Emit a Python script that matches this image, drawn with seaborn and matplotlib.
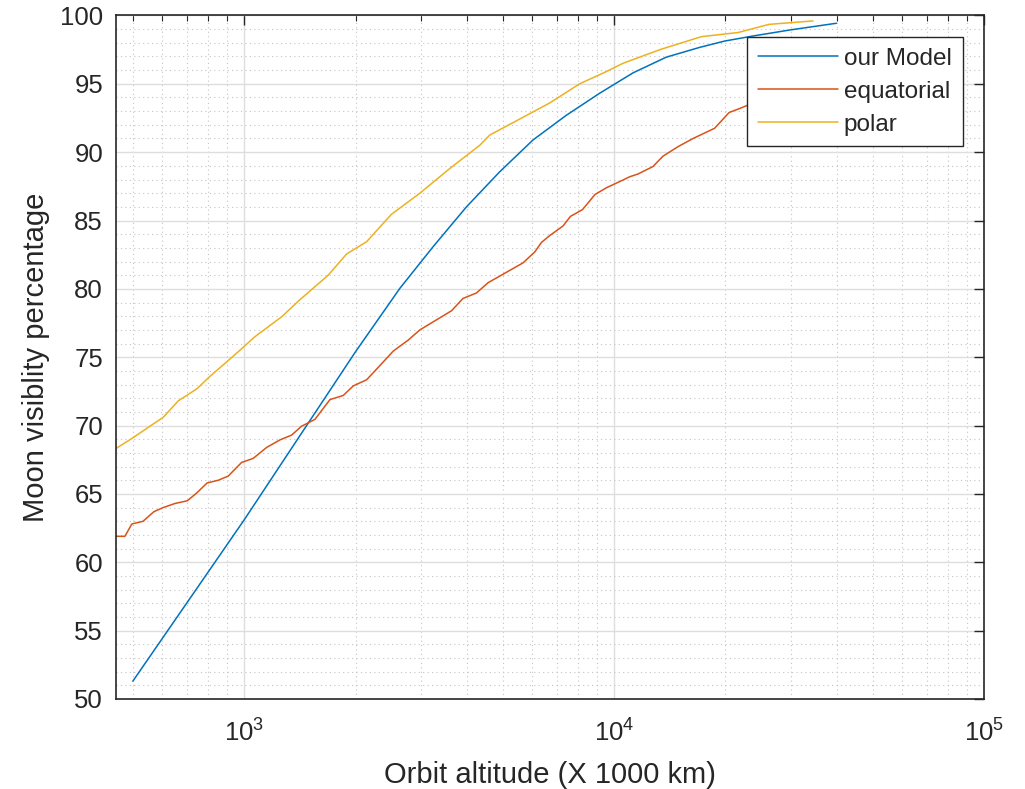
import numpy as np
import pandas as pd
import matplotlib
matplotlib.use("Agg")
import matplotlib.pyplot as plt
import seaborn as sns
from matplotlib.ticker import LogLocator, MultipleLocator, FixedLocator

# values
model_x = [500, 1000, 1475, 2000, 2636, 3243, 3990, 4909, 6036, 7430, 9140,
           11250, 13840, 17060, 19920, 23770, 29900, 39900]
model_y = [51.3, 63.1, 70.0, 75.4, 80.04, 83.09, 86.0, 88.57, 90.89, 92.7,
           94.31, 95.8, 96.95, 97.67, 98.13, 98.5, 98.94, 99.43]

equ_x = [449, 476, 497, 533, 570, 604, 650, 702, 743, 794, 851, 905, 984,
         1058, 1150, 1249, 1343, 1429, 1553, 1706, 1852, 1972, 2143, 2330,
         2530, 2776, 2986, 3636, 3905, 4246, 4564, 5672, 6103, 6364, 6700,
         7277, 7620, 8218, 8876, 9538, 10360, 11020, 11600, 12740, 13550,
         14880, 16350, 18700, 20460, 21880, 23770, 30000, 39700]
equ_y = [61.9, 61.9, 62.8, 63.0, 63.7, 64.0, 64.3, 64.5, 65.05, 65.8, 66.0,
         66.3, 67.3, 67.6, 68.4, 68.95, 69.3, 69.95, 70.45, 71.9, 72.2, 72.9,
         73.35, 74.4, 75.45, 76.25, 77.0, 78.4, 79.3, 79.7, 80.45, 81.9, 82.7,
         83.4, 83.9, 84.6, 85.3, 85.8, 86.9, 87.4, 87.85, 88.2, 88.4, 88.95,
         89.7, 90.4, 91.0, 91.75, 92.9, 93.2, 93.6, 95.0, 96.3]

polar_x = [449, 500, 556, 604, 663, 746, 808, 905, 973, 1069, 1262, 1414,
           1687, 1892, 2143, 2500, 2986, 3594, 4333, 4612, 6700, 8070, 9540,
           10570, 13300, 17220, 21620, 26240, 34500]
polar_y = [68.3, 69.1, 69.95, 70.6, 71.8, 72.7, 73.6, 74.75, 75.5, 76.5,
           77.95, 79.2, 81.0, 82.55, 83.45, 85.45, 87.0, 88.8, 90.5, 91.25,
           93.6, 95.0, 95.9, 96.5, 97.5, 98.45, 98.75, 99.35, 99.6]

series_names = ["our Model", "equatorial", "polar"]
colors = ["#0072BD", "#D95319", "#EDB120"]

df = pd.concat([
    pd.DataFrame({"alt": model_x, "vis": model_y, "series": series_names[0]}),
    pd.DataFrame({"alt": equ_x, "vis": equ_y, "series": series_names[1]}),
    pd.DataFrame({"alt": polar_x, "vis": polar_y, "series": series_names[2]}),
])

sns.set_style("white")
plt.rcParams["font.family"] = ["Liberation Sans", "DejaVu Sans"]
plt.rcParams["mathtext.fontset"] = "custom"
plt.rcParams["mathtext.rm"] = "Liberation Sans"
plt.rcParams["mathtext.it"] = "Liberation Sans"

fig = plt.figure(figsize=(10.25, 7.89), dpi=100)
ax = fig.add_axes([0.1127, 0.1141, 0.8473, 0.8663])

sns.lineplot(data=df, x="alt", y="vis", hue="series", hue_order=series_names,
             palette=dict(zip(series_names, colors)), estimator=None,
             sort=False, linewidth=1.1, ax=ax)

ax.set_xscale("log")
ax.set_xlim(449, 1e5)
ax.set_ylim(50, 100)
ax.xaxis.set_major_locator(FixedLocator([1e3, 1e4, 1e5]))
ax.xaxis.set_minor_locator(LogLocator(base=10, subs=np.arange(2, 10), numticks=20))
ax.yaxis.set_major_locator(MultipleLocator(5))
ax.yaxis.set_minor_locator(MultipleLocator(1))

ax.grid(which="major", color="#dedede", linestyle="-", linewidth=1.0)
ax.grid(which="minor", color="#c4c4c4", linestyle=(0, (1, 3)), linewidth=0.8)
ax.set_axisbelow(True)

ax.tick_params(which="both", direction="in", top=True, right=True,
               colors="#262626", labelsize=18.5)
ax.tick_params(which="major", length=7, width=1.0)
ax.tick_params(which="minor", length=4, width=0.8)
ax.tick_params(axis="y", which="minor", length=0)
ax.tick_params(axis="x", pad=15)
ax.tick_params(axis="y", pad=9)
for sp in ax.spines.values():
    sp.set_color("#262626")
    sp.set_linewidth(1.2)

ax.set_xlabel("Orbit altitude (X 1000 km)", fontsize=21, color="#262626", labelpad=10)
ax.set_ylabel("Moon visiblity percentage", fontsize=21, color="#262626", labelpad=7)

leg = ax.legend(loc="upper right", bbox_to_anchor=(0.9755, 0.969),
                fontsize=17.5, frameon=True, fancybox=False, framealpha=1,
                edgecolor="#262626", handlelength=3.3, borderpad=0.45,
                labelspacing=0.45, handletextpad=0.25, borderaxespad=0)
leg.get_frame().set_linewidth(1.0)

fig.savefig("out.png", dpi=100)
